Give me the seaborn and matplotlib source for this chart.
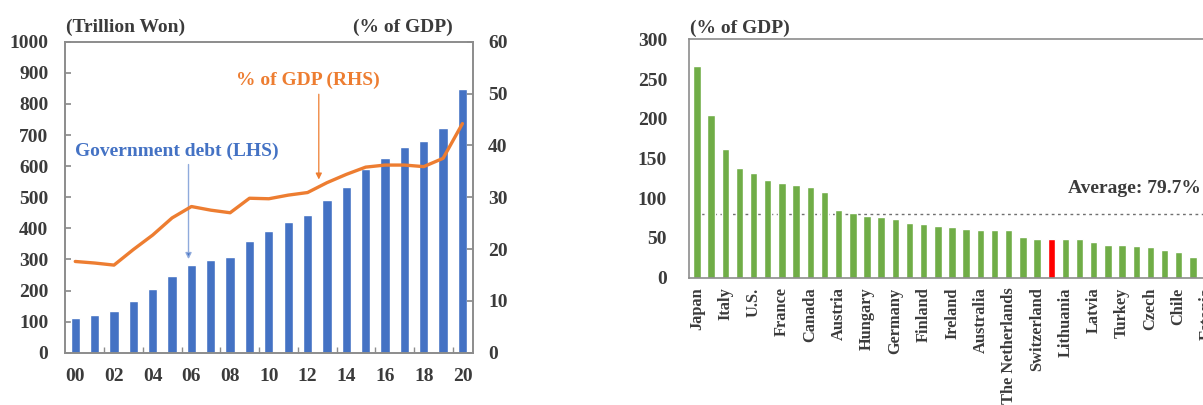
import matplotlib
matplotlib.use("Agg")
import matplotlib.pyplot as plt
import numpy as np
import pandas as pd
import seaborn as sns

# Korea: central government debt (trillion won) and its ratio to GDP
years = ["00", "01", "02", "03", "04", "05", "06", "07", "08", "09", "10",
         "11", "12", "13", "14", "15", "16", "17", "18", "19", "20"]
debt_trillion = [111.2, 121.8, 133.8, 165.8, 203.7, 247.9, 282.7, 299.2, 309.0, 359.6,
                 392.2, 420.5, 443.1, 489.8, 533.2, 591.5, 626.9, 660.2, 680.5, 723.2, 846.9]
debt_pct_gdp = [17.6, 17.3, 16.9, 19.9, 22.7, 26.0, 28.2, 27.5, 27.0, 29.8, 29.7,
                30.4, 30.9, 32.8, 34.4, 35.8, 36.2, 36.2, 35.9, 37.5, 44.2]

# International comparison of government debt (% of GDP)
country_labels = ["Japan", "", "Italy", "", "U.S.", "", "France", "", "Canada", "",
                  "Austria", "", "Hungary", "", "Germany", "", "Finland", "", "Ireland", "",
                  "Australia", "", "The Netherlands", "", "Switzerland", "", "Lithuania", "",
                  "Latvia", "", "Turkey", "", "Czech", "", "Chile", "", "Estonia"]
country_debt = [266.5, 205.2, 162.0, 137.6, 131.3, 123.0, 119.6, 117.1, 113.7, 108.3,
                84.8, 81.0, 77.6, 76.4, 73.4, 68.4, 68.0, 65.5, 63.4, 61.7,
                60.4, 60.0, 60.0, 50.8, 48.7, 48.7, 48.7, 48.7, 44.5, 41.1,
                41.1, 40.3, 39.0, 34.4, 32.7, 26.4, 24.0]
highlight_index = 25
oecd_average = 79.7

BLUE = "#4472C4"
ORANGE = "#ED7D31"
GREEN = "#70AD47"
RED = "#FF0000"
TEXT = "#3b3b3b"
SPINE = "#8c8c8c"

sns.set_theme(style="white")
plt.rcParams["font.family"] = ["Liberation Serif", "DejaVu Serif"]
plt.rcParams["font.weight"] = "bold"

W, H = 1203, 405
fig = plt.figure(figsize=(W / 100, H / 100), dpi=100)


def px_axes(left, top, right, bottom):
    return fig.add_axes([left / W, 1 - bottom / H, (right - left) / W, (bottom - top) / H])


# ---------------- left panel ----------------
ax = px_axes(65, 41.7, 472.7, 352.7)
df_left = pd.DataFrame({"year": years, "debt": debt_trillion, "pct": debt_pct_gdp})
sns.barplot(data=df_left, x="year", y="debt", color=BLUE, saturation=1,
            width=0.48, ax=ax, zorder=2)
ax.set_xlim(-0.53, len(years) - 0.47)
ax.set_ylim(0, 1000)
ax.set_yticks(np.arange(0, 1001, 100))
ax.set_xticks(range(0, len(years), 2))
ax.set_xticklabels(years[::2])
ax.set_xticks(np.arange(1.5, len(years) - 1, 2), minor=True)
ax.tick_params(axis="x", which="major", length=0, pad=11, labelsize=14, labelcolor=TEXT)
ax.tick_params(axis="x", which="minor", direction="in", length=4, color=SPINE, width=1, bottom=True)
ax.tick_params(axis="y", direction="in", length=4, color=SPINE, pad=12, labelsize=14,
               labelcolor=TEXT, left=True)
ax.set_xlabel("")
ax.set_ylabel("")

ax2 = ax.twinx()
sns.lineplot(x=np.arange(len(years)), y=debt_pct_gdp, color=ORANGE, linewidth=2.4,
             ax=ax2, zorder=3)
ax2.set_ylim(0, 60)
ax2.set_yticks(np.arange(0, 61, 10))
ax2.tick_params(axis="y", direction="in", length=4, color=SPINE, pad=11, labelsize=14,
                labelcolor=TEXT, right=True)
ax2.set_ylabel("")

for a in (ax, ax2):
    for s in a.spines.values():
        s.set_color(SPINE)
        s.set_linewidth(1.2)

# annotations on the left panel (in bar-axis data units)
ax.text(12.0, 877, "% of GDP (RHS)", color=ORANGE, fontsize=14, ha="center", va="center")
ax.annotate("", xy=(12.58, 548), xytext=(12.58, 840),
            arrowprops=dict(arrowstyle="-|>", color=ORANGE, lw=0.9, mutation_scale=9))
ax.text(5.25, 646, "Government debt (LHS)", color=BLUE, fontsize=14, ha="center", va="center")
ax.annotate("", xy=(5.85, 292), xytext=(5.85, 614),
            arrowprops=dict(arrowstyle="-|>", color="#8FAADC", lw=1.0, mutation_scale=9,
                            ec="#8FAADC", fc=BLUE))

fig.text(66 / W, 1 - 27 / H, "(Trillion Won)", fontsize=14, color=TEXT, ha="left", va="center")
fig.text(453 / W, 1 - 27 / H, "(% of GDP)", fontsize=14, color=TEXT, ha="right", va="center")

# ---------------- right panel ----------------
n = len(country_debt)
step = 14.17
x0 = 689.3
axr = px_axes(x0, 39.3, x0 + step * (n + 1), 277.7)
df_right = pd.DataFrame({"pos": np.arange(n), "debt": country_debt})
palette = {i: (RED if i == highlight_index else GREEN) for i in range(n)}
sns.barplot(data=df_right, x="pos", y="debt", hue="pos", palette=palette, saturation=1,
            width=0.52, legend=False, ax=axr, zorder=2)
axr.set_xlim(-0.54, n + 0.46)
axr.set_ylim(0, 300)
axr.set_yticks(np.arange(0, 301, 50))
axr.set_xticks(range(n))
axr.set_xticklabels(country_labels, rotation=90, fontsize=11.8, color=TEXT)
axr.tick_params(axis="x", length=0, pad=7)
axr.tick_params(axis="y", length=0, pad=16, labelsize=14, labelcolor=TEXT)
axr.set_xlabel("")
axr.set_ylabel("")
axr.axhline(oecd_average, xmin=0.01, color="#707070", linestyle=(0, (2, 2.5)), linewidth=1.0,
            zorder=1)
axr.text(26.2, 112.5, f"Average: {oecd_average}%", fontsize=14, color=TEXT,
         ha="left", va="center")
for s in axr.spines.values():
    s.set_color(SPINE)
    s.set_linewidth(1.2)

fig.text(690 / W, 1 - 28 / H, "(% of GDP)", fontsize=14, color=TEXT, ha="left", va="center")

fig.savefig("out.png", dpi=100)
